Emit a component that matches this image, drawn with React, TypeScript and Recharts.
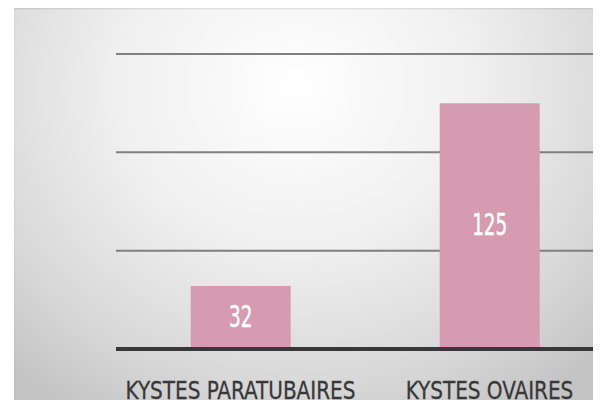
import { BarChart, Bar, XAxis, YAxis, CartesianGrid, LabelList } from "recharts";

const categories = ["KYSTES PARATUBAIRES", "KYSTES OVAIRES"];
const counts = [32, 125];
const yTicks = [0, 50, 100, 150];

const data = categories.map((name, i) => ({ name, count: counts[i] }));

const FONT = "'Liberation Sans Narrow', 'DejaVu Sans Condensed', sans-serif";

// the source font is very narrow, so squeeze the condensed glyphs horizontally
function CategoryTick(props: any) {
  const { x, y, payload } = props;
  return (
    <g transform={`translate(${x},${y + 42}) scale(0.89,1)`}>
      <text textAnchor="middle" fill="#383838" fontSize={25} fontFamily={FONT} stroke="#383838" strokeWidth={0.3}>
        {payload.value}
      </text>
    </g>
  );
}

function ValueLabel(props: any) {
  const { x, y, width, height, value } = props;
  const cx = x + width / 2;
  const cy = y + height / 2;
  return (
    <g transform={`translate(${cx},${cy + 9}) scale(0.66,1)`}>
      <text textAnchor="middle" fill="#ffffff" fontSize={31} fontFamily={FONT} stroke="#ffffff" strokeWidth={0.5}>
        {value}
      </text>
    </g>
  );
}

export default function App() {
  return (
    <div style={{ position: "relative", width: 601, height: 408, margin: -8, overflow: "hidden", background: "#fff" }}>
      {/* plot area backdrop, brighter near the top centre */}
      <div
        style={{
          position: "absolute",
          left: 14,
          top: 7,
          right: 0,
          bottom: 0,
          background: "radial-gradient(ellipse 72% 95% at 48% 20%, #ffffff 0%, #f0f0f0 42%, #d8d8d8 78%, #c4c4c4 100%)",
          boxShadow: "inset 0 2px 2px rgba(0,0,0,0.12)",
        }}
      />
      <div style={{ position: "absolute", left: 0, top: 0 }}>
        <BarChart width={614} height={408} data={data} margin={{ top: 54, right: 0, left: 116, bottom: 0 }} barCategoryGap="30%">
          <CartesianGrid vertical={false} stroke="#808080" strokeWidth={2} />
          <YAxis hide domain={[0, 150]} ticks={yTicks} />
          <XAxis
            dataKey="name"
            height={59}
            interval={0}
            tickLine={false}
            axisLine={{ stroke: "#383838", strokeWidth: 4 }}
            tick={<CategoryTick />}
          />
          <Bar dataKey="count" fill="#d69bb0" isAnimationActive={false}>
            <LabelList dataKey="count" content={<ValueLabel />} />
          </Bar>
        </BarChart>
      </div>
    </div>
  );
}
